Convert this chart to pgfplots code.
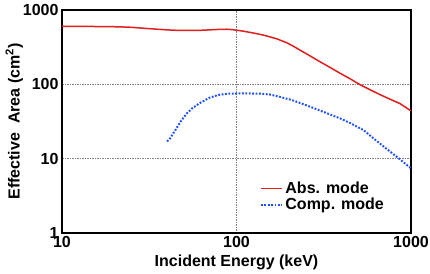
\documentclass[border=0pt]{standalone}
\usepackage{fontspec}
\setmainfont{Liberation Sans}
\usepackage{pgfplots}
\pgfplotsset{compat=1.18}
\definecolor{redline}{RGB}{225,30,30}
\definecolor{blueline}{RGB}{30,80,255}
\begin{document}
\begin{tikzpicture}[x=1pt,y=1pt]
\path[use as bounding box] (-62,-40) rectangle (368,233);
\begin{axis}[
  at={(0,0)}, anchor=south west,
  scale only axis, width=349pt, height=223pt,
  xmode=log, ymode=log,
  xmin=10, xmax=1000, ymin=1, ymax=1000,
  xtick={10,100,1000}, ytick={1,10,100,1000},
  xticklabels={10,100,1000}, yticklabels={{1\hspace{8pt}},10,100,1000},
  xminorticks=false, yminorticks=false,
  major tick length=0pt,
  grid=major,
  major grid style={gray, line width=0.4pt, dash pattern=on 1.5pt off 1pt},
  axis line style={line width=1.2pt},
  /pgf/number format/assume math mode=true,
  tick label style={font=\fontsize{16}{19}\selectfont\bfseries},
  label style={font=\fontsize{16}{19}\selectfont\bfseries},
  xlabel={Incident Energy (keV)},
  ylabel={Effective\ \ Area (cm\textsuperscript{2})},
  ylabel shift=-7pt,
  legend style={at={(rel axis cs:0.567,0.238)}, anchor=north west, draw=none, fill=none,
    font=\fontsize{16}{18}\selectfont\bfseries, inner sep=0pt, row sep=-1pt},
  legend cell align=left,
  legend image code/.code={\draw[#1] (0cm,0cm) -- (0.75cm,0cm);},
]
\addplot[redline, line width=1.5pt] coordinates {
(10,600) (15,600) (19,597) (22,592) (25,585) (28,573) (32,560) (36,549) (40,540)
(47,531) (55,530) (62,533) (70,540) (80,549) (88,551) (94,545) (100,535) (110,518)
(120,499) (135,473) (149,447) (170,410) (194,363) (212,325) (231,289) (265,240)
(301,201) (345,168) (392,141) (450,118) (510,99) (580,85) (662,73) (760,63)
(865,55) (1000,44)
};
\addlegendentry{Abs. mode}
\addplot[blueline, line width=2pt, dash pattern=on 1.8pt off 1.6pt] coordinates {
(40,17) (41.6,18.7) (45,25) (48,32) (51.9,40.6) (56,48) (61.7,56) (70,66)
(78.7,72) (90,75) (110,75.5) (136,75) (155,73) (177,68) (210,61) (264,50)
(320,42) (392,34.8) (450,30) (510,25.6) (534,24.3) (621,18.1) (729,13.4)
(855,10.0) (1000,7.4)
};
\addlegendentry{Comp. mode}
\end{axis}
\end{tikzpicture}
\end{document}
